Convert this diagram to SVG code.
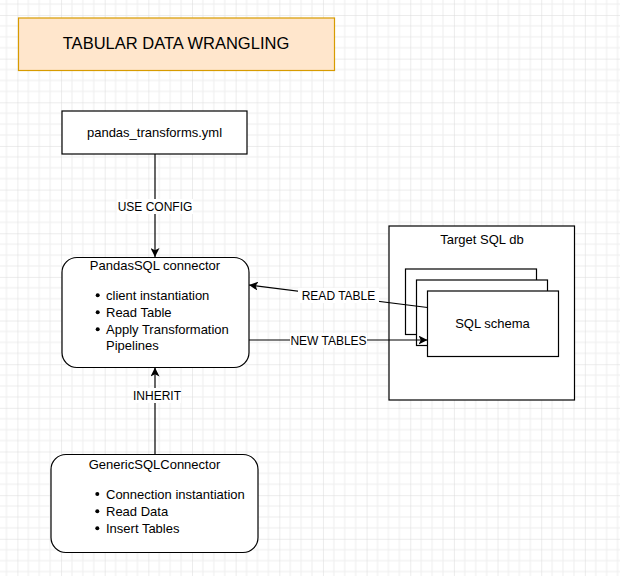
<svg xmlns="http://www.w3.org/2000/svg" width="620" height="576" viewBox="0 0 620 576">
  <defs>
    <pattern id="grid" patternUnits="userSpaceOnUse" width="43.65" height="43.65" patternTransform="translate(17.4 15)">
      <path d="M10.91 0V43.65M21.82 0V43.65M32.74 0V43.65M0 10.91H43.65M0 21.82H43.65M0 32.74H43.65" stroke="#eeeeee" stroke-width="1" fill="none"/>
      <path d="M0 0V43.65M0 0H43.65" stroke="#dadada" stroke-width="1" fill="none"/>
    </pattern>
    <marker id="arrow" viewBox="0 0 10 10" refX="10" refY="5" markerWidth="9" markerHeight="9" markerUnits="userSpaceOnUse" orient="auto">
      <path d="M0 0L10 5L0 10L2.5 5Z" fill="#000"/>
    </marker>
    <style>
      text { font-family: "Liberation Sans", Arial, Helvetica, sans-serif; fill: #000; }
      .box { fill: #fff; stroke: #000; stroke-width: 1.2; }
      .t13 { font-size: 13px; }
      .mid { text-anchor: middle; }
      .lbl { font-size: 12px; text-anchor: middle; dominant-baseline: central; }
      .edge { fill: none; stroke: #000; stroke-width: 1.2; marker-end: url(#arrow); }
      .lblbg { fill: #fff; }
    </style>
  </defs>
  <rect x="0" y="0" width="620" height="576" fill="#fff"/>
  <rect x="0" y="0" width="620" height="576" fill="url(#grid)"/>

  <g id="title">
    <rect x="18.5" y="18" width="316" height="52.5" fill="#ffe6cc" stroke="#d79b00" stroke-width="1.2"/>
    <text x="176" y="49" class="mid" font-size="16.5">TABULAR DATA WRANGLING</text>
  </g>

  <g id="pandas_transforms">
    <rect class="box" x="62" y="111" width="185" height="43"/>
    <text x="154.5" y="137" class="t13 mid">pandas_transforms.yml</text>
  </g>

  <g id="pandassql_connector">
    <rect class="box" x="62" y="257.5" width="187" height="110" rx="15" ry="15"/>
    <text x="155" y="270" class="t13 mid">PandasSQL connector</text>
    <circle cx="97.7" cy="295.3" r="2"/>
    <circle cx="97.7" cy="312.3" r="2"/>
    <circle cx="97.7" cy="329.3" r="2"/>
    <text x="106" y="300" class="t13">client instantiation</text>
    <text x="106" y="317" class="t13">Read Table</text>
    <text x="106" y="334" class="t13">Apply Transformation</text>
    <text x="106" y="350" class="t13">Pipelines</text>
  </g>

  <g id="genericsql_connector">
    <rect class="box" x="51" y="454.5" width="207" height="98" rx="15" ry="15"/>
    <text x="154.5" y="468.5" class="t13 mid">GenericSQLConnector</text>
    <circle cx="97.3" cy="494" r="2"/>
    <circle cx="97.3" cy="511.3" r="2"/>
    <circle cx="97.3" cy="528.3" r="2"/>
    <text x="106" y="498.5" class="t13">Connection instantiation</text>
    <text x="106" y="516" class="t13">Read Data</text>
    <text x="106" y="533" class="t13">Insert Tables</text>
  </g>

  <g id="target_sql_db">
    <rect class="box" x="389" y="226" width="185.5" height="174"/>
    <text x="482" y="244" class="t13 mid">Target SQL db</text>
  </g>

  <g id="sql_schema">
    <rect class="box" x="405.5" y="269" width="131" height="65.5"/>
    <rect class="box" x="416.5" y="280" width="131" height="65.5"/>
    <rect class="box" x="427.5" y="291" width="131" height="65.5"/>
    <text x="492.5" y="328" class="t13 mid">SQL schema</text>
  </g>

  <g id="connectors">
    <path class="edge" d="M155 154V257"/>
    <rect class="lblbg" x="117" y="199" width="76" height="15"/>
    <text class="lbl" x="155" y="207">USE CONFIG</text>

    <path class="edge" d="M155 454.5V367.5"/>
    <rect class="lblbg" x="133" y="388" width="48" height="15"/>
    <text class="lbl" x="157" y="395.5">INHERIT</text>

    <path class="edge" d="M427.5 307.5L249 285"/>
    <rect class="lblbg" x="298" y="288" width="81" height="15"/>
    <text class="lbl" x="338.5" y="295.5">READ TABLE</text>

    <path class="edge" d="M249 340H427.5"/>
    <rect class="lblbg" x="290" y="333" width="77" height="15"/>
    <text class="lbl" x="328.5" y="340.5">NEW TABLES</text>
  </g>
</svg>
